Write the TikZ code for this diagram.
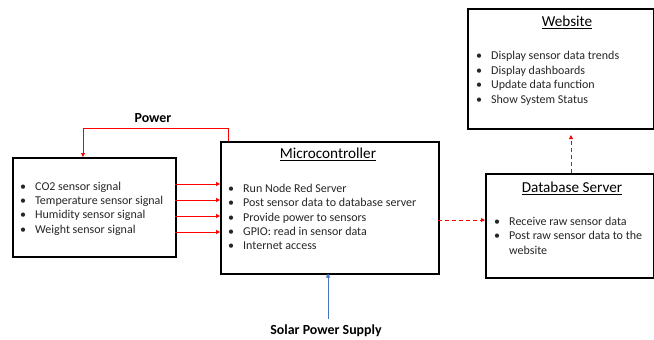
\documentclass[tikz,border=0pt]{standalone}
\usepackage{fontspec}
\setmainfont{Carlito}
\usetikzlibrary{arrows.meta}

\definecolor{officeblue}{HTML}{4472C4}
\tikzset{
  box/.style={draw=black, line width=1.7pt, fill=white, anchor=north west, inner sep=0pt},
  title/.style={font=\fontsize{15.2}{17}\selectfont, anchor=base, inner sep=0pt},
  item/.style={font=\fontsize{12}{14}\selectfont, anchor=base west, inner sep=0pt, text=black!85},
  label/.style={font=\fontsize{13.9}{16}\selectfont\bfseries, inner sep=0pt},
  power/.style={draw=red, line width=0.9pt, -{Triangle[length=4pt,width=4pt]}},
  data/.style={draw=red, line width=0.9pt, dashed, dash pattern=on 4pt off 3pt, -{Triangle[length=4pt,width=4pt]}},
  supply/.style={draw=officeblue, line width=0.9pt, -{Triangle[length=4pt,width=4pt]}},
}
\newcommand{\bul}[1]{\makebox[15pt][l]{\textbullet}#1}

\begin{document}
\begin{tikzpicture}[x=1pt, y=-1pt]
\useasboundingbox (0,0) rectangle (654,340);

% boxes
\node[box, minimum width=163pt, minimum height=99pt] (sens) at (12,157) {};
\node[box, minimum width=218pt, minimum height=132pt] (mcu) at (220,141) {};
\node[box, minimum width=186pt, minimum height=120pt] (web) at (467,8) {};
\node[box, minimum width=168pt, minimum height=104pt] (db) at (485,173) {};

% sensor signals
\foreach \t [count=\i] in {CO2 sensor signal, Temperature sensor signal, Humidity sensor signal, Weight sensor signal}
  \node[item, name=s\i] at (20,{186+14.3*(\i-1)+4.2}) {\bul{\t}};

% microcontroller
\node[title] (mcutitle) at (328,158.5) {\underline{Microcontroller}};
\foreach \t [count=\i] in {Run Node Red Server, Post sensor data to database server, Provide power to sensors, GPIO: read in sensor data, Internet access}
  \node[item, name=m\i] at (228,{188.3+14.3*(\i-1)+4.2}) {\bul{\t}};

% website
\node[title] (webtitle) at (567,26.5) {\underline{Website}};
\foreach \t [count=\i] in {Display sensor data trends, Display dashboards, Update data function, Show System Status}
  \node[item, name=w\i] at (476,{55.7+14.4*(\i-1)+4.2}) {\bul{\t}};

% database server
\node[title] (dbtitle) at (572,192.5) {\underline{Database Server}};
\node[item] (d1) at (494,{221+4.2}) {\bul{Receive raw sensor data}};
\node[item] (d2) at (494,{235.7+4.2}) {\bul{Post raw sensor data to the}};
\node[item] (d3) at (509,{250+4.2}) {website};

% power feed from the microcontroller to the sensors
\node[label] (powerlbl) at (153,118) {Power};
\coordinate (pA) at (228,141);
\coordinate (pB) at (83,157);
\draw[power] (pA) -- (228,128) -- (83,128) -- (pB);

% sensor signal lines
\foreach \y [count=\i] in {184,200,216,232}{
  \coordinate (sl\i) at (175,\y);
  \coordinate (sr\i) at (220,\y);
  \draw[power] (sl\i) -- (sr\i);
}

% data paths
\coordinate (mcuout) at (438,220);
\coordinate (dbin) at (485,220);
\draw[data] (mcuout) -- (dbin);
\coordinate (dbup) at (571,173);
\coordinate (webdown) at (571,135);
\draw[data] (dbup) -- (webdown);

% solar supply
\node[label] (solar) at (326,331) {Solar Power Supply};
\coordinate (solartop) at (328,319);
\coordinate (mcubottom) at (328,273.5);
\draw[supply] (solartop) -- (mcubottom);
\end{tikzpicture}
\end{document}
